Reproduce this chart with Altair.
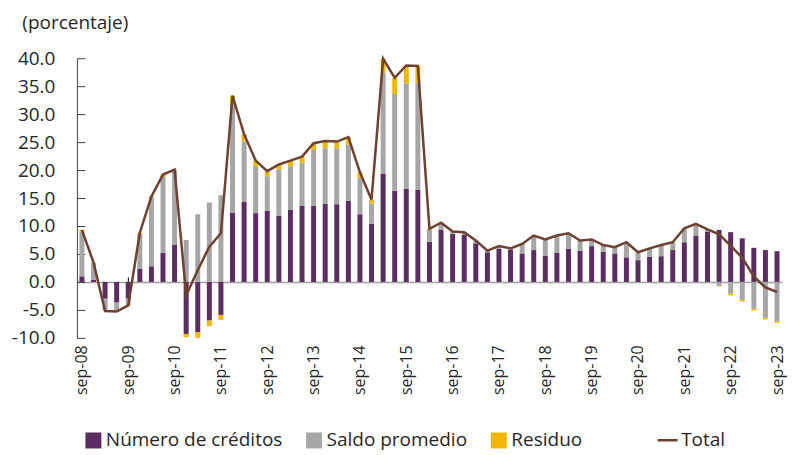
import json
import altair as alt
import pandas as pd

periodos = [
    "sep-08", "dic-08", "mar-09", "jun-09", "sep-09", "dic-09", "mar-10", "jun-10",
    "sep-10", "dic-10", "mar-11", "jun-11", "sep-11", "dic-11", "mar-12", "jun-12",
    "sep-12", "dic-12", "mar-13", "jun-13", "sep-13", "dic-13", "mar-14", "jun-14",
    "sep-14", "dic-14", "mar-15", "jun-15", "sep-15", "dic-15", "mar-16", "jun-16",
    "sep-16", "dic-16", "mar-17", "jun-17", "sep-17", "dic-17", "mar-18", "jun-18",
    "sep-18", "dic-18", "mar-19", "jun-19", "sep-19", "dic-19", "mar-20", "jun-20",
    "sep-20", "dic-20", "mar-21", "jun-21", "sep-21", "dic-21", "mar-22", "jun-22",
    "sep-22", "dic-22", "mar-23", "jun-23", "sep-23",
]

numero = [1.0, 0.4, -3.0, -3.7, -3.0, 2.4, 2.8, 5.2, 6.6,
          -9.3, -9.0, -6.9, -5.9,
          12.4, 14.3, 12.3, 12.7, 11.8, 12.9, 13.6,
          13.6, 14.0, 13.9, 14.5, 12.1, 10.4,
          19.3, 16.3, 16.7, 16.5,
          7.2, 9.3, 8.6, 8.4, 6.9, 5.3, 5.9, 5.8, 5.1, 5.7,
          4.7, 5.2, 5.9, 5.6, 6.4, 5.4, 5.1, 4.4, 3.9, 4.5,
          4.6, 5.7, 7.1, 8.3, 9.0, 9.3, 8.9, 7.8, 6.1, 5.7, 5.5]

saldo = [8.0, 3.0, -2.1, -1.5, -1.1, 6.2, 12.4, 13.6, 13.4,
         7.5, 12.1, 14.2, 15.5,
         19.4, 10.8, 8.4, 6.2, 8.3, 7.8, 7.7,
         10.0, 9.9, 9.9, 10.0, 6.5, 3.6,
         18.1, 17.3, 18.8, 19.0,
         2.2, 1.2, 0.4, 0.5, 0.5, 0.3, 0.5, 0.2, 1.7, 2.6,
         2.9, 3.1, 2.8, 1.8, 1.2, 1.2, 1.1, 2.7, 1.4, 1.5,
         2.0, 1.4, 2.5, 2.1, 0.4, -0.7, -2.1, -3.2, -4.8, -6.4, -7.0]

residuo = [0.3, 0.1, -0.1, -0.1, -0.1, 0.2, 0.1, 0.4, 0.1,
           -0.6, -1.0, -1.0, -0.9,
           1.5, 1.3, 1.0, 0.9, 0.9, 1.0, 1.1,
           1.2, 1.3, 1.3, 1.4, 1.0, 0.7,
           2.5, 2.9, 3.2, 3.1,
           0.1, 0.1, 0.0, 0.0, 0.0, 0.0, 0.0, 0.0, 0.0, 0.0,
           0.0, 0.0, 0.0, 0.0, 0.0, 0.0, 0.0, 0.0, 0.0, 0.0,
           0.0, 0.0, 0.0, 0.0, 0.0, -0.1, -0.3, -0.3, -0.3, -0.3, -0.3]

total = [9.3, 3.5, -5.2, -5.3, -4.2, 8.8, 15.3, 19.2, 20.1,
         -2.4, 2.1, 6.3, 8.7,
         33.3, 26.4, 21.7, 19.8, 21.0, 21.7, 22.4,
         24.8, 25.2, 25.1, 25.9, 19.6, 14.7,
         39.9, 36.5, 38.7, 38.6,
         9.5, 10.6, 9.0, 8.9, 7.4, 5.6, 6.4, 6.0, 6.8, 8.3,
         7.6, 8.3, 8.7, 7.4, 7.6, 6.6, 6.2, 7.1, 5.3, 6.0,
         6.6, 7.1, 9.6, 10.4, 9.4, 8.5, 6.5, 4.3, 1.0, -1.0, -1.8]

series = ["Número de créditos", "Saldo promedio", "Residuo"]
colores = ["#5b2d62", "#a6a6a6", "#f2b705"]
color_total = "#6e4130"
yticks = [-10, -5, 0, 5, 10, 15, 20, 25, 30, 35, 40]
xticks = list(range(0, 61, 4))

FONT = "Open Sans"
W, H = 706, 280

rows = []
for i, p in enumerate(periodos):
    for k, (s, vals) in enumerate(zip(series, [numero, saldo, residuo])):
        rows.append({"idx": i, "periodo": p, "serie": s, "valor": vals[i], "orden": k})
df = pd.DataFrame(rows)
df_total = pd.DataFrame({"idx": list(range(len(periodos))), "total": total, "serie": "Total"})

xscale = alt.Scale(domain=[0, len(periodos) - 1], nice=False, zero=False)
yscale = alt.Scale(domain=[-10, 40], nice=False, zero=False)
label_expr = json.dumps(periodos) + "[datum.value]"

bars = alt.Chart(df).mark_bar(size=5).encode(
    x=alt.X("idx:Q", scale=xscale,
            axis=alt.Axis(orient="bottom", values=xticks, labelExpr=label_expr,
                          labelAngle=270, labelAlign="right", labelBaseline="middle",
                          ticks=False, tickSize=0, domain=False, grid=False,
                          labelPadding=7, labelFont=FONT, labelFontSize=16,
                          labelColor="#262626", title=None)),
    y=alt.Y("valor:Q", stack="zero", scale=yscale,
            axis=alt.Axis(values=yticks,
                          labelExpr="replace(format(datum.value, '.1f'), '\u2212', '-')",
                          ticks=False, tickSize=0, domain=False, grid=False,
                          labelPadding=22, labelFont=FONT, labelFontSize=19,
                          labelColor="#262626", title=None)),
    color=alt.Color("serie:N", scale=alt.Scale(domain=series, range=colores),
                    legend=alt.Legend(orient="none", legendX=7, legendY=373,
                                      direction="horizontal", title=None,
                                      symbolType="square", symbolSize=256,
                                      symbolStrokeWidth=0, labelFont=FONT,
                                      labelFontSize=19, labelColor="#262626",
                                      labelLimit=400, labelOffset=3, columnPadding=22)),
    order=alt.Order("orden:Q"),
)

line = alt.Chart(df_total).mark_line(strokeWidth=2.5).encode(
    x=alt.X("idx:Q", scale=xscale,
            axis=alt.Axis(orient="top", offset=-H * 40 / 50, values=xticks,
                          labels=False, ticks=True, tickSize=5, tickColor="#000000",
                          domainColor="#a0a0a0", domainWidth=1.5, grid=False, title=None)),
    y=alt.Y("total:Q", scale=yscale,
            axis=alt.Axis(orient="right", offset=-W, values=yticks, labels=False,
                          ticks=True, tickSize=8, tickColor="#404040",
                          domainColor="#404040", grid=False, title=None)),
    stroke=alt.Stroke("serie:N", scale=alt.Scale(domain=["Total"], range=[color_total]),
                      legend=alt.Legend(orient="none", legendX=580, legendY=371,
                                        title=None, symbolType="stroke",
                                        symbolStrokeWidth=2.5, symbolSize=400,
                                        labelFont=FONT, labelFontSize=19,
                                        labelLimit=200,
                                        labelColor="#262626", labelOffset=2)),
)

chart = alt.layer(bars, line).resolve_axis(x="independent", y="independent").properties(
    width=W, height=H,
    autosize=alt.AutoSizeParams(type="none"),
    padding={"left": 69, "top": 50, "right": 5, "bottom": 116},
    title=alt.Title("(porcentaje)", anchor="start", font=FONT, fontSize=19,
                    fontWeight="normal", color="#262626", dx=11, offset=16),
).configure_view(stroke=None)

chart.save("out.html", embed_options={"renderer": "svg", "actions": False})
